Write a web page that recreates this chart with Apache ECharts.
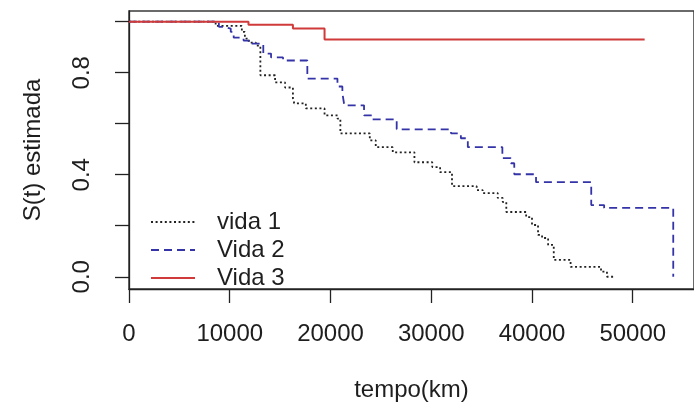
<!DOCTYPE html>
<html><head><meta charset="utf-8">
<script src="https://cdn.jsdelivr.net/npm/echarts@6/dist/echarts.min.js"></script>
<style>html,body{margin:0;padding:0;background:#fff}#c{width:694px;height:407px}</style>
</head><body><div id="c"></div>
<script>
// Kaplan-Meier estimates: time (km) and S(t)
const vida1Time = [0, 8600, 11200, 11500, 11900, 12600, 13040, 14500, 15490, 16270, 16400, 17550, 19410, 20700, 20980, 23900, 24490, 26180, 28330, 30100, 30880, 32060, 34510, 35100, 36600, 37100, 37450, 39420, 40000, 40600, 41000, 41600, 42160, 43830, 46850, 47440, 48300];
const vida1Surv = [1.0, 0.984, 0.96, 0.934, 0.918, 0.906, 0.79, 0.762, 0.742, 0.70, 0.68, 0.66, 0.633, 0.62, 0.5625, 0.535, 0.508, 0.488, 0.449, 0.43, 0.41, 0.355, 0.34, 0.328, 0.309, 0.293, 0.254, 0.234, 0.203, 0.164, 0.152, 0.125, 0.066, 0.039, 0.02, 0.0, 0.0];
const vida2Time = [0, 8920, 9410, 10100, 10390, 11370, 11860, 13330, 14100, 15290, 17700, 20690, 21180, 21370, 23330, 24120, 26570, 31960, 32940, 33630, 37060, 37900, 38240, 40400, 45880, 47160, 54020];
const vida2Surv = [1.0, 0.98, 0.973, 0.96, 0.9375, 0.926, 0.914, 0.875, 0.86, 0.848, 0.777, 0.746, 0.72, 0.672, 0.633, 0.617, 0.578, 0.5625, 0.543, 0.508, 0.465, 0.445, 0.402, 0.371, 0.281, 0.27, 0.0];
const vida3Time = [0, 11860, 16270, 19410, 51180];
const vida3Surv = [1.0, 0.988, 0.973, 0.93, 0.93];
const xTicks = [0, 10000, 20000, 30000, 40000, 50000];
const yTicks = [0, 0.2, 0.4, 0.6, 0.8, 1.0];
const yLabels = [0, 0.4, 0.8];
const legendNames = ['vida 1', 'Vida 2', 'Vida 3'];

const pair = (t, s) => t.map((v, i) => [v, s[i]]);
const font = 'Liberation Sans, Arial, sans-serif';
const txt = '#1e1e1e';
const chart = echarts.init(document.getElementById('c'), null, {renderer: 'canvas'});

const legendY = [222, 250, 278];
const legendStyles = [
  {stroke: '#222', lineWidth: 1.8, lineDash: [2, 2.6]},
  {stroke: '#3434a8', lineWidth: 1.8, lineDash: [8, 5]},
  {stroke: '#d03a3a', lineWidth: 2}
];
const graphics = [];
legendNames.forEach((n, i) => {
  graphics.push({type: 'line', shape: {x1: 151, y1: legendY[i], x2: 195, y2: legendY[i]}, style: legendStyles[i], z: 10});
  graphics.push({type: 'text', x: 217, y: legendY[i], style: {text: n, font: '24px ' + font, fill: txt, textVerticalAlign: 'middle'}, z: 10});
});

chart.setOption({
  animation: false,
  backgroundColor: '#fff',
  grid: {left: 129, top: 11, width: 572, height: 278, show: true, borderColor: '#3a3a3a', borderWidth: 1.5, backgroundColor: 'transparent'},
  xAxis: {
    type: 'value', min: 0, max: 56080,
    name: 'tempo(km)', nameLocation: 'middle', nameGap: 89,
    nameTextStyle: {fontSize: 24, fontFamily: font, color: txt},
    axisLine: {show: true, onZero: false, lineStyle: {color: '#222', width: 1.3}},
    axisTick: {show: true, length: 14, customValues: xTicks, lineStyle: {color: '#222', width: 1.3}},
    axisLabel: {customValues: xTicks, fontSize: 24, fontFamily: font, color: txt, margin: 33, formatter: v => String(v)},
    splitLine: {show: false}
  },
  yAxis: {
    type: 'value', min: -0.048, max: 1.042,
    name: 'S(t) estimada', nameLocation: 'middle', nameGap: 84, nameRotate: 90,
    nameTextStyle: {fontSize: 24, fontFamily: font, color: txt},
    axisLine: {show: true, onZero: false, lineStyle: {color: '#222', width: 1.3}},
    axisTick: {show: true, length: 14, customValues: yTicks, lineStyle: {color: '#222', width: 1.3}},
    axisLabel: {customValues: yLabels, rotate: 90, fontSize: 24, fontFamily: font, color: txt, margin: 35, formatter: v => v.toFixed(1)},
    splitLine: {show: false}
  },
  series: [
    {name: 'vida 1', type: 'line', step: 'end', symbol: 'none', data: pair(vida1Time, vida1Surv), lineStyle: {color: '#222', width: 1.8, type: [2, 2.6]}, z: 3},
    {name: 'Vida 2', type: 'line', step: 'end', symbol: 'none', data: pair(vida2Time, vida2Surv), lineStyle: {color: '#3434a8', width: 1.8, type: [8, 5]}, z: 4},
    {name: 'Vida 3', type: 'line', step: 'end', symbol: 'none', data: pair(vida3Time, vida3Surv), lineStyle: {color: '#d03a3a', width: 2}, z: 5}
  ],
  graphic: graphics
});
</script></body></html>
